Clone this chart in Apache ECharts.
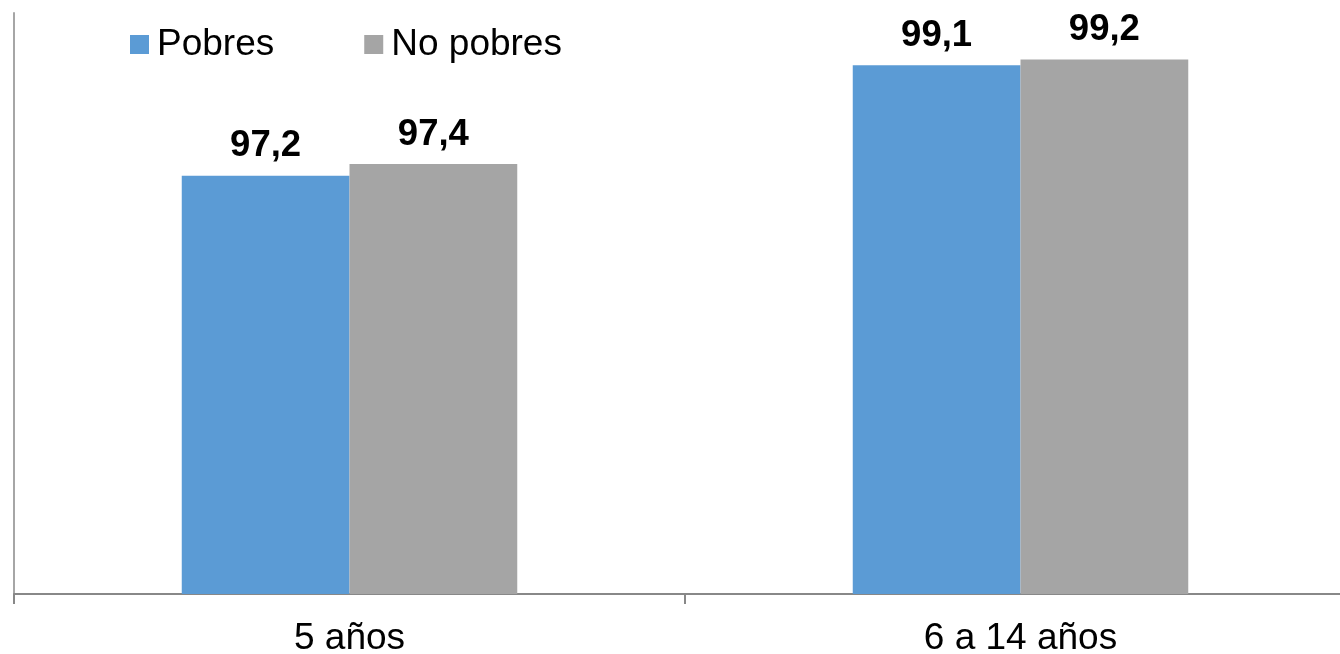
<!DOCTYPE html>
<html>
<head>
<meta charset="utf-8">
<script src="https://cdn.jsdelivr.net/npm/echarts@6/dist/echarts.min.js"></script>
<style>
html,body{margin:0;padding:0;background:#fff;}
#chart{width:1340px;height:654px;}
</style>
</head>
<body>
<div id="chart"></div>
<script>
const categories = ['5 años', '6 a 14 años'];
const seriesNames = ['Pobres', 'No pobres'];
const pobres = [97.2, 99.1];
const noPobres = [97.4, 99.2];
const yMin = 90;
const yMax = 100;

const FONT = '"Liberation Sans", Arial, sans-serif';
const chart = echarts.init(document.getElementById('chart'), null, {renderer: 'canvas'});
const labelFmt = p => String(p.value).replace('.', ',');
chart.setOption({
  animation: false,
  backgroundColor: '#ffffff',
  legend: {
    left: 130,
    top: 26,
    padding: 0,
    itemWidth: 19,
    itemHeight: 19,
    itemGap: 90,
    icon: 'rect',
    textStyle: {fontFamily: FONT, fontSize: 37, color: '#000', padding: [0, 0, 0, 3]},
    data: seriesNames
  },
  grid: {left: 14, width: 1342, top: 13, height: 581, containLabel: false, outerBoundsMode: 'none'},
  xAxis: {
    type: 'category',
    data: categories,
    axisLine: {show: true, lineStyle: {color: '#888888', width: 2}},
    axisTick: {show: true, length: 10, lineStyle: {color: '#888888', width: 2}},
    axisLabel: {fontFamily: FONT, fontSize: 37, color: '#000', margin: 26}
  },
  yAxis: {
    type: 'value',
    min: yMin,
    max: yMax,
    interval: 10,
    axisLine: {show: true, lineStyle: {color: '#a6a6a6', width: 2}},
    axisTick: {show: false},
    axisLabel: {show: false},
    splitLine: {show: false}
  },
  series: [
    {
      name: seriesNames[0], type: 'bar', data: pobres,
      barGap: '0%', barCategoryGap: '50%',
      itemStyle: {color: '#5b9bd5'},
      label: {show: true, position: 'top', distance: 11, formatter: labelFmt,
        fontFamily: FONT, fontSize: 36.5, fontWeight: 'bold', color: '#000'}
    },
    {
      name: seriesNames[1], type: 'bar', data: noPobres,
      barGap: '0%', barCategoryGap: '50%',
      itemStyle: {color: '#a5a5a5'},
      label: {show: true, position: 'top', distance: 11, formatter: labelFmt,
        fontFamily: FONT, fontSize: 36.5, fontWeight: 'bold', color: '#000'}
    }
  ]
});
</script>
</body>
</html>
